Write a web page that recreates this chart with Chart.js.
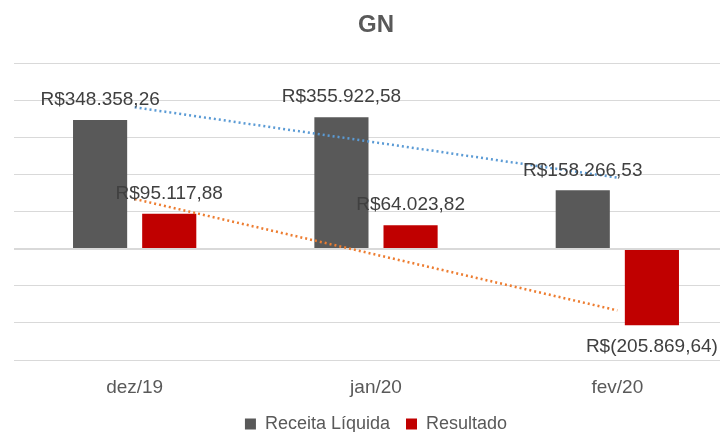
<!DOCTYPE html>
<html>
<head>
<meta charset="utf-8">
<script src="https://cdn.jsdelivr.net/npm/chart.js@4.4.1/dist/chart.umd.min.js"></script>
<style>
  html, body { margin: 0; padding: 0; overflow: hidden; background: #fff; }
  #wrap { width: 760px; height: 432px; }
</style>
</head>
<body>
<div id="wrap"><canvas id="gn" width="760" height="432"></canvas></div>
<script>
var meses = ["dez/19", "jan/20", "fev/20"];
var receita = [348358.26, 355922.58, 158266.53];
var resultado = [95117.88, 64023.82, -205869.64];

// linha de tendencia linear (minimos quadrados), como no Excel
function tendencia(v) {
  var n = v.length, mx = 0, my = 0;
  for (var i = 0; i < n; i++) { mx += i; my += v[i]; }
  mx /= n; my /= n;
  var num = 0, den = 0;
  for (var i = 0; i < n; i++) { num += (i - mx) * (v[i] - my); den += (i - mx) * (i - mx); }
  var b = num / den;
  return v.map(function (_, i) { return my + b * (i - mx); });
}

function reais(v) {
  var neg = v < 0;
  var s = Math.abs(v).toFixed(2).split(".");
  var inteiro = s[0].replace(/\B(?=(\d{3})+(?!\d))/g, ".");
  var txt = inteiro + "," + s[1];
  return neg ? "R$(" + txt + ")" : "R$" + txt;
}

var fonte = "'Liberation Sans', Arial, sans-serif";

var rotulos = {
  id: "rotulos",
  afterDatasetsDraw: function (chart) {
    var ctx = chart.ctx;
    ctx.save();
    ctx.font = "19px " + fonte;
    ctx.fillStyle = "#404040";
    ctx.textAlign = "center";
    ctx.textBaseline = "middle";
    chart.data.datasets.forEach(function (ds, di) {
      if (ds.type !== "bar") return;
      var meta = chart.getDatasetMeta(di);
      meta.data.forEach(function (bar, i) {
        var v = ds.data[i];
        var y = v >= 0 ? bar.y - 20 : bar.y + 22;
        ctx.fillText(reais(v), bar.x, y);
      });
    });
    ctx.restore();
  }
};

new Chart(document.getElementById("gn").getContext("2d"), {
  data: {
    labels: meses,
    datasets: [
      { type: "bar", label: "Receita Líquida", data: receita, backgroundColor: "#595959", order: 2 },
      { type: "bar", label: "Resultado", data: resultado, backgroundColor: "#C00000", order: 2 },
      { type: "line", label: "tend1", data: tendencia(receita), borderColor: "#5B9BD5", borderWidth: 2.5,
        borderDash: [2, 3], pointRadius: 0, fill: false, order: 1 },
      { type: "line", label: "tend2", data: tendencia(resultado), borderColor: "#ED7D31", borderWidth: 2.5,
        borderDash: [2, 3], pointRadius: 0, fill: false, order: 1 }
    ]
  },
  options: {
    responsive: false,
    animation: false,
    layout: { padding: { left: 14, right: 22, top: 7, bottom: 0 } },
    datasets: { bar: { categoryPercentage: 0.573, barPercentage: 0.783 } },
    scales: {
      x: {
        grid: { display: false },
        border: { display: false },
        ticks: { color: "#595959", font: { size: 19, family: fonte }, padding: 8 },
        afterFit: function (s) { s.height = 39; }
      },
      y: {
        min: -300000, max: 500000,
        ticks: { stepSize: 100000, display: false },
        border: { display: false },
        grid: {
          drawTicks: false,
          color: "#D9D9D9",
          lineWidth: function (c) { return c.tick && c.tick.value === 0 ? 2 : 1; }
        }
      }
    },
    plugins: {
      title: {
        display: true, text: "GN", color: "#595959",
        font: { size: 24, weight: "bold", family: fonte },
        padding: { top: 4, bottom: 24 }
      },
      legend: {
        position: "bottom",
        maxHeight: 33,
        labels: {
          color: "#595959", boxWidth: 11, boxHeight: 11, padding: 16,
          font: { size: 18, family: fonte },
          filter: function (item) { return item.text.indexOf("tend") !== 0; }
        }
      },
      tooltip: { enabled: false }
    }
  },
  plugins: [rotulos]
});
</script>
</body>
</html>
